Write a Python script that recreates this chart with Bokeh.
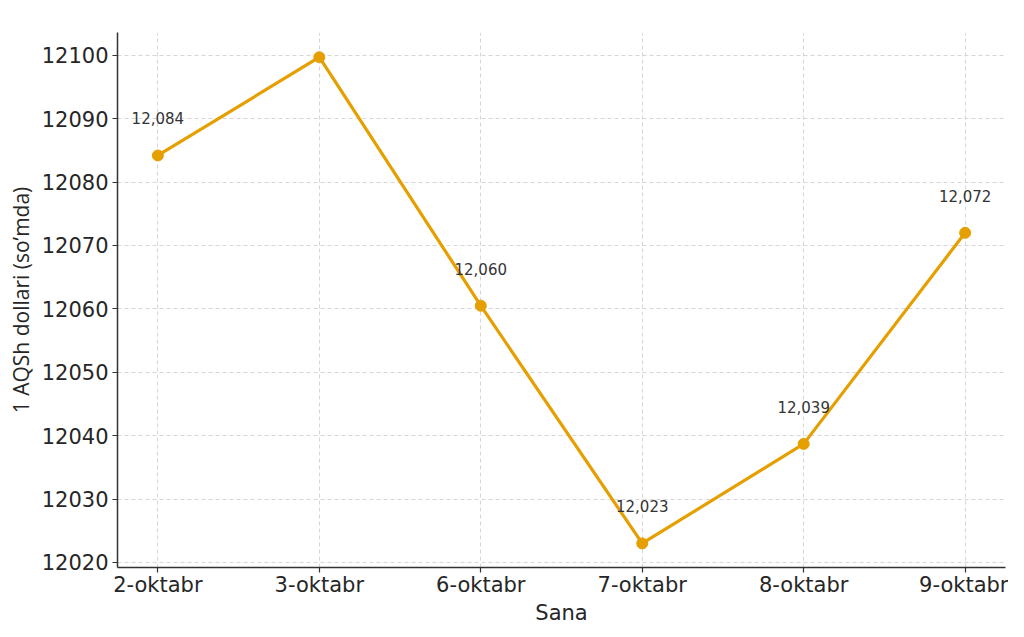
from bokeh.plotting import figure
from bokeh.models import ColumnDataSource, Range1d, FixedTicker, SingleIntervalTicker, LabelSet
from bokeh.core.properties import value
from bokeh.embed import file_html
from bokeh.resources import INLINE

dates = ["2-oktabr", "3-oktabr", "6-oktabr", "7-oktabr", "8-oktabr", "9-oktabr"]
rates = [12084.2, 12099.7, 12060.5, 12023.0, 12038.7, 12072.0]
y_title = "1 AQSh dollari (so\u2019mda)"
x_title = "Sana"

color = "#E69F00"
xs = list(range(len(dates)))
src = ColumnDataSource(dict(
    x=xs, y=rates, lbl=[f"{round(v):,}" for v in rates]
))

p = figure(width=1008, height=629, output_backend="svg", toolbar_location=None,
           x_range=Range1d(-0.25, len(dates) - 0.75),
           y_range=Range1d(12019.2, 12103.6))
p.min_border_left = 117
p.min_border_right = 3
p.min_border_top = 32
p.min_border_bottom = 62
p.outline_line_color = None
p.background_fill_color = "white"
p.border_fill_color = "white"

p.line("x", "y", source=src, line_color=color, line_width=3.2)
p.scatter("x", "y", source=src, size=11, fill_color=color, line_color=color)

labels = LabelSet(x="x", y="y", text="lbl", source=src, y_offset=37,
                  text_align="center", text_baseline="middle",
                  text_font_size=value("15px"), text_color="#333333",
                  text_font=value("DejaVu Sans"))
p.add_layout(labels)

p.xaxis.ticker = FixedTicker(ticks=xs)
p.xaxis.major_label_overrides = {i: d for i, d in enumerate(dates)}
p.yaxis.ticker = SingleIntervalTicker(interval=10)
p.xaxis.minor_tick_line_color = None
p.yaxis.minor_tick_line_color = None

for ax in (p.xaxis, p.yaxis):
    ax.axis_line_color = "#333333"
    ax.axis_line_width = 1.5
    ax.major_tick_line_color = "#333333"
    ax.major_tick_line_width = 1.2
    ax.major_tick_out = 5
    ax.major_tick_in = 0
    ax.major_label_text_font = "DejaVu Sans"
    ax.major_label_text_font_size = "21px"
    ax.major_label_text_color = "#262626"
    ax.axis_label_text_font_size = "21px"
    ax.axis_label_text_font_style = "normal"
    ax.axis_label_text_color = "#262626"

p.xaxis.axis_label = x_title
p.xaxis.axis_label_text_font = "DejaVu Sans"
p.yaxis.axis_label = y_title
p.yaxis.axis_label_text_font = "Open Sans"
p.yaxis.axis_label_text_font_size = "21px"
p.xaxis.major_label_standoff = 0
p.xaxis.axis_label_standoff = 1
p.yaxis.major_label_standoff = 4
p.yaxis.axis_label_standoff = 4

for g in (p.xgrid, p.ygrid):
    g.grid_line_color = "#cccccc"
    g.grid_line_dash = "4 3"
    g.grid_line_width = 1
    g.grid_line_alpha = 0.8

open("out.html", "w").write(file_html(p, INLINE))
